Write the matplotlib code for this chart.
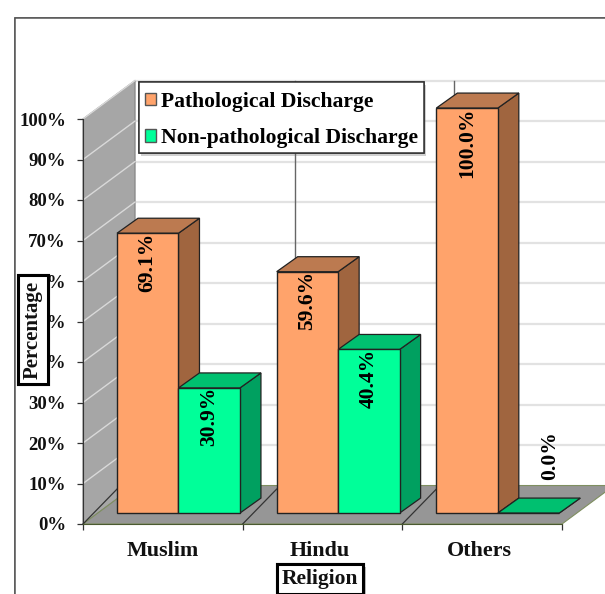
# grouped pseudo-3D bar chart: type of vaginal discharge by religion

import matplotlib
matplotlib.use("Agg")
import matplotlib.pyplot as plt
import matplotlib.patheffects as pe
from matplotlib.patches import Patch, Rectangle

religions = ['Muslim', 'Hindu', 'Others']
pathological = [69.1, 59.6, 100.0]
non_pathological = [30.9, 40.4, 0.0]
pct_ticks = [0, 10, 20, 30, 40, 50, 60, 70, 80, 90, 100]

W, H = 605, 594
plt.rcParams['font.family'] = ['Liberation Serif', 'DejaVu Serif']
plt.rcParams['font.weight'] = 'bold'

fig = plt.figure(figsize=(W / 100, H / 100), dpi=100, facecolor='white')

# outer chart frame runs off the right and bottom of the figure
fig.add_artist(Rectangle((14.5 / W, -0.1), 1.2, 1.1 - 18 / H, transform=fig.transFigure,
                         facecolor='white', edgecolor='#555555', linewidth=1.1, zorder=-1,
                         path_effects=[pe.withSimplePatchShadow(offset=(1, -1), alpha=0.25,
                                                                shadow_rgbFace='#888888'),
                                       pe.Normal()]))

ax = fig.add_axes([83 / W, (H - 524) / H, (562 - 83) / W, 405 / H])
ax.set_xlim(0, 3)
ax.set_ylim(0, 100)
ax.patch.set_visible(False)

# depth of the fake perspective, in data units
wall_dx, wall_dy = 0.326, 9.5
bar_dx, bar_dy = 0.1315, 3.7
lift = 2.7          # bars stand forward of the axis plane
bar_left = 0.213
bar_w = 0.385

# side wall and floor
ax.fill([0, wall_dx, wall_dx, 0], [0, wall_dy, 100 + wall_dy, 100],
        color='#a6a6a6', ec='#808080', lw=0.8, zorder=1, clip_on=False)
ax.fill([0, wall_dx, 3 + wall_dx, 3], [0, wall_dy, wall_dy, 0],
        color='#969696', ec='#7f8f60', lw=0.8, zorder=1, clip_on=False)

for p in pct_ticks:
    if p > 0:
        # gridline across the back wall and down the side wall
        ax.plot([wall_dx, 3.4], [p + wall_dy, p + wall_dy], color='#e2e2e2', lw=1.6,
                zorder=0.5, clip_on=False)
        ax.plot([0, wall_dx], [p, p + wall_dy], color='#d9d9d9', lw=1.0, zorder=1.2,
                clip_on=False)

# category separators on the back wall and the floor
for i in [1, 2]:
    ax.plot([i + wall_dx, i + wall_dx], [wall_dy, 100 + wall_dy], color='#666666', lw=1.0,
            zorder=0.7, clip_on=False)
for i in [0, 1, 2]:
    ax.plot([i, i + bar_left], [0, lift + bar_dy * 1.6], color='#333333', lw=0.9, zorder=1.3,
            clip_on=False)


def draw_series(values, offset, front, side, top, z):
    lefts = [i + bar_left + offset for i in range(len(values))]
    for x, v in zip(lefts, values):
        y = lift + v
        ax.fill([x + bar_w, x + bar_w + bar_dx, x + bar_w + bar_dx, x + bar_w],
                [lift, lift + bar_dy, y + bar_dy, y],
                facecolor=side, edgecolor='#222222', lw=0.9, zorder=z, clip_on=False)
        ax.fill([x, x + bar_dx, x + bar_w + bar_dx, x + bar_w],
                [y, y + bar_dy, y + bar_dy, y],
                facecolor=top, edgecolor='#222222', lw=0.9, zorder=z, clip_on=False)
    ax.bar(lefts, values, bar_w, bottom=lift, align='edge', color=front,
           edgecolor='#222222', linewidth=1.0, zorder=z + 0.1, clip_on=False)
    return lefts


left_a = draw_series(pathological, 0, '#ffa36b', '#a0653f', '#bc7a50', 2)
left_b = draw_series(non_pathological, bar_w, '#00ff99', '#00a060', '#00c070', 3)

# value labels sit inside the bars, the empty bar gets its label above the floor
for lefts, values in [(left_a, pathological), (left_b, non_pathological)]:
    for x, v in zip(lefts, values):
        if v > 0:
            ax.annotate(f'{v:.1f}%', (x + bar_w / 2, lift + v), xytext=(0, 0.5),
                        textcoords='offset points', rotation=90, ha='center', va='top',
                        fontsize=15.5, color='black', zorder=6, annotation_clip=False)
        else:
            ax.annotate(f'{v:.1f}%', (x + bar_w / 2, lift + v), xytext=(15.5, 24),
                        textcoords='offset points', rotation=90, ha='center', va='bottom',
                        fontsize=15.5, color='black', zorder=6, annotation_clip=False)

# axes
for s in ['top', 'right']:
    ax.spines[s].set_visible(False)
ax.spines['left'].set_color('#333333')
ax.spines['bottom'].set_color('#4a5a30')
ax.spines['left'].set_zorder(5)
ax.spines['bottom'].set_zorder(5)

ax.set_yticks(pct_ticks)
ax.set_yticklabels([f'{p}%' for p in pct_ticks], fontsize=13.5, color='#111111')
ax.tick_params(axis='y', length=4.3, width=0.9, pad=8, color='#333333')

ax.set_xticks([0, 1, 2, 3])
ax.set_xticklabels([])
ax.set_xticks([0.5, 1.485, 2.48], minor=True)
ax.set_xticklabels(religions, minor=True, fontsize=15.8, color='#111111')
ax.tick_params(axis='x', which='major', length=4.3, width=0.9, color='#333333')
ax.tick_params(axis='x', which='minor', length=0, pad=12)

# axis titles in boxes, drawn over the tick labels
box = dict(boxstyle='square,pad=0.24', facecolor='white', edgecolor='black', linewidth=2.2,
           path_effects=[pe.withSimplePatchShadow(offset=(2, -2), alpha=0.35,
                                                  shadow_rgbFace='#555555'), pe.Normal()])
fig.text(32.5 / W, (H - 329.5) / H, 'Percentage', rotation=90, ha='center', va='center',
         fontsize=15, color='#111111', bbox=box, zorder=8)
fig.text(320 / W, (H - 579) / H, 'Religion', ha='center', va='center',
         fontsize=15.5, color='#111111', bbox=box, zorder=8)

# legend box drawn on its own so the entries can hug the right edge
fig.add_artist(Rectangle((138.5 / W, (H - 153) / H), 285 / W, 71 / H, transform=fig.transFigure,
                         facecolor='white', edgecolor='#333333', linewidth=1.1, zorder=6,
                         path_effects=[pe.withSimplePatchShadow(offset=(2, -2), alpha=0.3,
                                                                shadow_rgbFace='#666666'),
                                       pe.Normal()]))
handles = [Patch(facecolor='#ffa36b', edgecolor='#555555', label='Pathological Discharge'),
           Patch(facecolor='#00ff99', edgecolor='#555555', label='Non-pathological Discharge')]
leg = fig.legend(handles=handles, loc='upper left',
                 bbox_to_anchor=(145 / W, (H - 92) / H), bbox_transform=fig.transFigure,
                 fontsize=15.6, frameon=False, borderpad=0, labelspacing=0.74,
                 handlelength=0.5, handleheight=0.5, handletextpad=0.22, borderaxespad=0)
leg.set_zorder(7)

fig.savefig('out.png', dpi=100)
